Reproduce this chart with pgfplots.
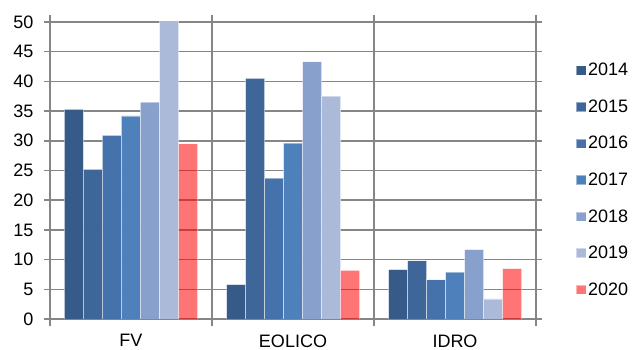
\documentclass[border=0pt]{standalone}
\usepackage{fontspec}
\setmainfont{Liberation Sans}
\usepackage{pgfplots}
\pgfplotsset{compat=1.18}
\definecolor{c14}{RGB}{54,91,136}
\definecolor{c15}{RGB}{62,102,153}
\definecolor{c16}{RGB}{69,114,170}
\definecolor{c17}{RGB}{78,128,188}
\definecolor{c18}{RGB}{135,160,204}
\definecolor{c19}{RGB}{170,186,216}
\definecolor{gridc}{RGB}{134,134,134}
\begin{document}
\begin{tikzpicture}
\begin{axis}[
  scale only axis, width=486bp, height=297bp,
  at={(0,0)}, anchor=south west,
  ybar=0pt, bar width=19bp,
  xmin=-0.5, xmax=2.5, ymin=0, ymax=50,
  xtick={0,1,2}, xticklabels={FV,EOLICO,IDRO},
  minor xtick={-0.5,0.5,1.5,2.5}, xminorgrids=true,
  ytick={0,5,...,50}, ymajorgrids=true,
  every major x tick/.append style={draw=none},
  tick align=outside, major tick length=6bp, minor tick length=7bp,
  axis line style={gridc, line width=1.5bp},
  grid style={gridc, line width=1.5bp},
  minor grid style={gridc, line width=1.5bp},
  tick style={gridc, line width=1.5bp},
  /pgf/number format/assume math mode=true,
  tick label style={font=\fontsize{18bp}{21bp}\selectfont, black},
  yticklabel style={xshift=-7bp},
  xticklabel style={yshift=-6bp},
  legend style={draw=none, at={(1.082,0.468)}, anchor=west,
    font=\fontsize{18bp}{21bp}\selectfont, row sep=18.5bp, inner sep=0pt},
  legend cell align=left,
  legend image code/.code={\fill[#1] (0bp,-4.6bp) rectangle (9.5bp,4.6bp);},
  every axis plot/.append style={draw=white, draw opacity=0.45, line width=0.6bp},
]
\addplot[fill=c14] coordinates {(0,35.3) (1,5.8) (2,8.3)};
\addplot[fill=c15] coordinates {(0,25.2) (1,40.5) (2,9.8)};
\addplot[fill=c16] coordinates {(0,30.9) (1,23.7) (2,6.6)};
\addplot[fill=c17] coordinates {(0,34.2) (1,29.6) (2,7.9)};
\addplot[fill=c18] coordinates {(0,36.5) (1,43.3) (2,11.7)};
\addplot[fill=c19] coordinates {(0,55) (1,37.5) (2,3.4)};
\addplot[fill=red, fill opacity=0.54] coordinates {(0,29.5) (1,8.2) (2,8.5)};
\legend{2014,2015,2016,2017,2018,2019,2020}
\end{axis}
\pgfresetboundingbox
\path[use as bounding box] (-50bp,-31bp) rectangle (582bp,319bp);
\end{tikzpicture}
\end{document}
